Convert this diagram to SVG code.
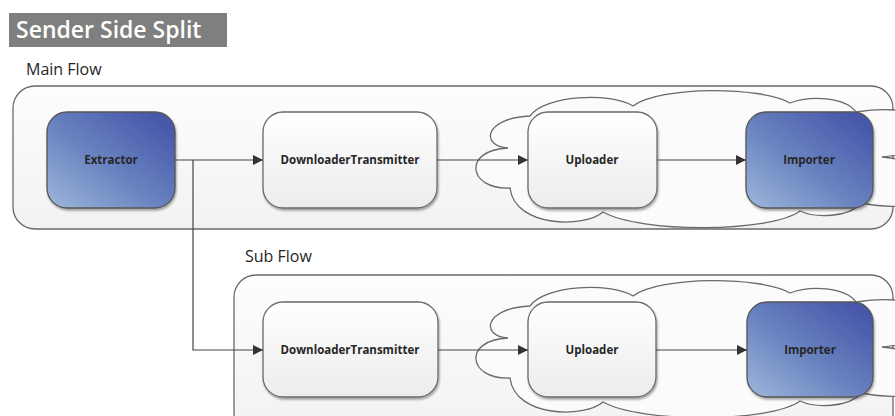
<svg xmlns="http://www.w3.org/2000/svg" width="895" height="416" viewBox="0 0 895 416">
<defs>
<linearGradient id="blue" x1="0" y1="1" x2="0.9" y2="0.1">
<stop offset="0" stop-color="#9db7db"/>
<stop offset="0.5" stop-color="#6a83c0"/>
<stop offset="1" stop-color="#4758aa"/>
</linearGradient>
<linearGradient id="white" x1="0" y1="0" x2="0" y2="1">
<stop offset="0" stop-color="#ffffff"/>
<stop offset="1" stop-color="#ececec"/>
</linearGradient>
<linearGradient id="cont" x1="0" y1="0" x2="0" y2="1">
<stop offset="0" stop-color="#fdfdfd"/>
<stop offset="1" stop-color="#f2f2f2"/>
</linearGradient>
<filter id="sh" x="-10%" y="-10%" width="130%" height="130%">
<feGaussianBlur in="SourceAlpha" stdDeviation="1.2"/>
<feOffset dx="1" dy="1.5" result="b"/>
<feComponentTransfer><feFuncA type="linear" slope="0.35"/></feComponentTransfer>
<feMerge><feMergeNode/><feMergeNode in="SourceGraphic"/></feMerge>
</filter>
<marker id="arr" viewBox="0 0 10 10" refX="10" refY="5" markerWidth="10" markerHeight="10" markerUnits="userSpaceOnUse" orient="auto">
<path d="M0,0 L10,5 L0,10 Z" fill="#333"/>
</marker>
<path id="cloud" d="M 508,148 C 480,146 484,118 530,116 C 545,95 610,92 633,106 C 660,86 760,86 790,103 C 810,95 845,97 856,112 C 945,98 965,150 882,157 C 965,165 945,220 862,203 C 848,218 815,218 800,211 C 770,233 640,233 603,212 C 585,228 515,228 510,188 C 468,190 462,150 508,148 Z"/>
</defs>
<style>
.cont{fill:url(#cont);stroke:#6a6a6a;stroke-width:1.3}
.cloud{fill:#fbfbfb;stroke:#6a6a6a;stroke-width:1.3}
.wn{fill:url(#white);stroke:#6a6a6a;stroke-width:1.3;filter:url(#sh)}
.bn{fill:url(#blue);stroke:#555;stroke-width:1.3;filter:url(#sh)}
.lbl{font-family:"Open Sans","Liberation Sans",sans-serif;font-weight:bold;font-size:11.5px;fill:#262626;text-anchor:middle}
.hdr{font-family:"Open Sans","Liberation Sans",sans-serif;font-size:16px;fill:#262626}
.conn{fill:none;stroke:#444;stroke-width:1.2}
</style>
<rect width="895" height="416" fill="#ffffff"/>
<g id="title">
<rect x="9" y="13" width="218" height="34" fill="#7f7f7f"/>
<text x="16" y="38" font-family="Open Sans, Liberation Sans, sans-serif" font-weight="600" font-size="23" fill="#ffffff">Sender Side Split</text>
</g>
<g id="main-flow">
<text class="hdr" x="26" y="75">Main Flow</text>
<rect class="cont" x="13" y="86" width="880" height="143" rx="22"/>
<use href="#cloud" class="cloud"/>
</g>
<g id="sub-flow">
<text class="hdr" x="245" y="262">Sub Flow</text>
<rect class="cont" x="234" y="275" width="659" height="160" rx="22"/>
<use href="#cloud" class="cloud" transform="translate(0,190)"/>
</g>
<g id="extractor">
<rect class="bn" x="47" y="112" width="128" height="96" rx="20"/>
<text class="lbl" x="111" y="164">Extractor</text>
</g>
<g id="dt-main">
<rect class="wn" x="263" y="112" width="174" height="96" rx="20"/>
<text class="lbl" x="350" y="164">DownloaderTransmitter</text>
</g>
<g id="uploader-main">
<rect class="wn" x="528" y="112" width="129" height="96" rx="20"/>
<text class="lbl" x="592" y="164">Uploader</text>
</g>
<g id="importer-main">
<rect class="bn" x="746" y="112" width="127" height="96" rx="20"/>
<text class="lbl" x="809" y="164">Importer</text>
</g>
<g id="dt-sub">
<rect class="wn" x="263" y="302" width="175" height="95" rx="20"/>
<text class="lbl" x="350" y="354">DownloaderTransmitter</text>
</g>
<g id="uploader-sub">
<rect class="wn" x="528" y="302" width="128" height="95" rx="20"/>
<text class="lbl" x="592" y="354">Uploader</text>
</g>
<g id="importer-sub">
<rect class="bn" x="747" y="302" width="126" height="95" rx="20"/>
<text class="lbl" x="810" y="354">Importer</text>
</g>
<g id="connectors">
<path class="conn" d="M175,160 H263" marker-end="url(#arr)"/>
<path class="conn" d="M193,160 V350 H263" marker-end="url(#arr)"/>
<path class="conn" d="M437,160 H528" marker-end="url(#arr)"/>
<path class="conn" d="M657,160 H746" marker-end="url(#arr)"/>
<path class="conn" d="M438,350 H528" marker-end="url(#arr)"/>
<path class="conn" d="M656,350 H747" marker-end="url(#arr)"/>
</g>
</svg>
